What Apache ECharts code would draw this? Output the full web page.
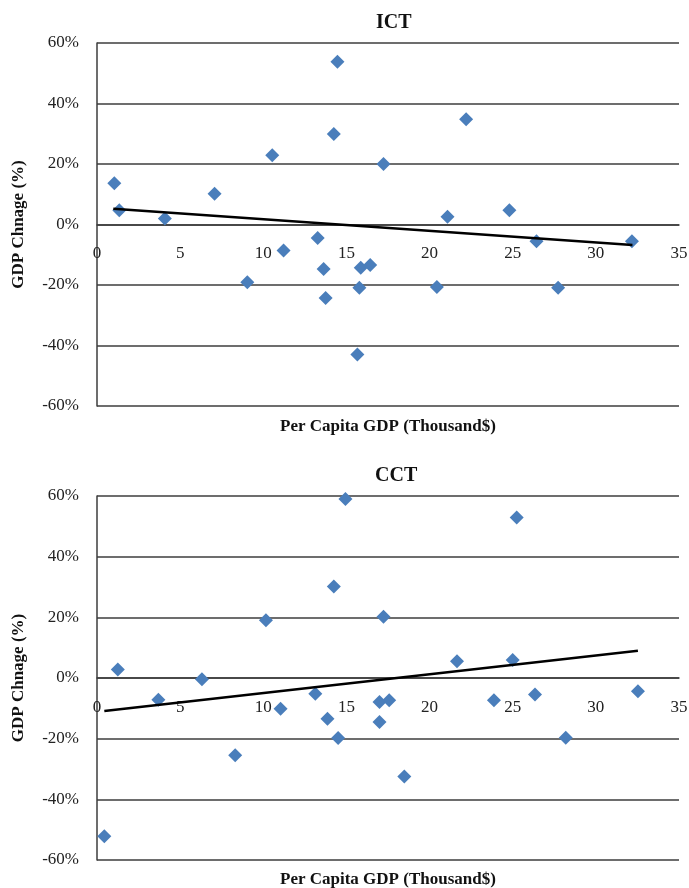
<!DOCTYPE html>
<html>
<head>
<meta charset="utf-8">
<script src="https://cdn.jsdelivr.net/npm/echarts@6/dist/echarts.min.js"></script>
<style>
html,body{margin:0;padding:0;background:#fff;}
#chart{width:689px;height:888px;}
</style>
</head>
<body>
<div id="chart"></div>
<script>
// ICT panel data: per capita GDP (thousand $) and GDP change (%)
var ictX = [1.04, 1.34, 4.08, 7.07, 10.54, 14.24, 14.46, 22.2, 17.23, 21.08, 24.8, 13.27, 11.22, 13.63, 9.04, 13.75, 15.86, 16.43, 15.78, 20.44, 27.73, 15.66, 26.43, 32.17];
var ictY = [13.6, 4.7, 2.0, 10.2, 22.9, 29.9, 53.8, 34.8, 20.0, 2.6, 4.7, -4.5, -8.6, -14.7, -19.1, -24.3, -14.3, -13.4, -20.9, -20.7, -20.9, -43.0, -5.5, -5.5];
var ictTrendX = [0.98, 32.2];
var ictTrendY = [5.2, -6.8];

// CCT panel data
var cctX = [1.25, 6.31, 10.16, 14.24, 14.94, 25.24, 17.23, 21.65, 25.0, 3.69, 13.13, 11.04, 13.86, 14.5, 8.31, 0.44, 16.99, 17.57, 16.99, 18.48, 23.87, 26.34, 32.53, 28.19];
var cctY = [2.8, -0.4, 19.0, 30.2, 59.0, 52.9, 20.2, 5.5, 5.9, -7.2, -5.2, -10.1, -13.4, -19.8, -25.5, -52.2, -7.9, -7.3, -14.5, -32.5, -7.3, -5.4, -4.4, -19.7];
var cctTrendX = [0.44, 32.53];
var cctTrendY = [-10.9, 9.0];

var panelTitles = ['ICT', 'CCT'];
var xAxisName = 'Per Capita GDP (Thousand$)';
var yAxisName = 'GDP Chnage (%)';

function pairs(xs, ys){ return xs.map(function(x,i){ return [x, ys[i]]; }); }

var FONT = '"Liberation Serif", "Times New Roman", serif';
var gridColor = '#3d3d3d';

function xAx(idx, off){
  return {
    type:'value', gridIndex:idx, min:0, max:35, interval:5,
    position:'bottom', offset:off,
    axisLine:{show:true, onZero:false, lineStyle:{color:gridColor, width:1.5}},
    axisTick:{show:false},
    splitLine:{show:false},
    axisLabel:{fontFamily:FONT, fontSize:17, color:'#222', margin:21}
  };
}
function yAx(idx){
  return {
    type:'value', gridIndex:idx, min:-60, max:60, interval:20,
    axisLine:{show:true, onZero:false, lineStyle:{color:gridColor, width:1.5}},
    axisTick:{show:false},
    splitLine:{show:true, lineStyle:{color:gridColor, width:1.5}},
    axisLabel:{fontFamily:FONT, fontSize:17, color:'#222', margin:18, padding:[4,0,0,0], formatter:'{value}%'},
    name:yAxisName, nameLocation:'middle', nameGap:70, nameRotate:90,
    nameTextStyle:{fontFamily:FONT, fontSize:17, fontWeight:'bold', color:'#111'}
  };
}
var titleStyle = {fontFamily:FONT, fontSize:20, fontWeight:'bold', color:'#111'};
var nameStyle = {fontFamily:FONT, fontSize:17, fontWeight:'bold', color:'#111'};

var chart = echarts.init(document.getElementById('chart'), null, {renderer:'canvas'});
chart.setOption({
  animation:false,
  backgroundColor:'#fff',
  title:[
    {text:panelTitles[0], left:376, top:13, padding:0, textStyle:titleStyle},
    {text:panelTitles[1], left:375, top:466, padding:0, textStyle:titleStyle},
    {text:xAxisName, left:280, top:418, padding:0, textStyle:nameStyle},
    {text:xAxisName, left:280, top:871, padding:0, textStyle:nameStyle}
  ],
  grid:[
    {left:97, right:10, top:43, height:363, containLabel:false, outerBoundsMode:'none'},
    {left:97, right:10, top:496, height:364, containLabel:false, outerBoundsMode:'none'}
  ],
  xAxis:[xAx(0, -181.5), xAx(1, -182)],
  yAxis:[yAx(0), yAx(1)],
  series:[
    {type:'scatter', xAxisIndex:0, yAxisIndex:0, data:pairs(ictX, ictY), symbol:'diamond', symbolSize:14, itemStyle:{color:'#4a7ebb', opacity:1}},
    {type:'line', xAxisIndex:0, yAxisIndex:0, data:pairs(ictTrendX, ictTrendY), symbol:'none', lineStyle:{color:'#000', width:2.5}, z:3},
    {type:'scatter', xAxisIndex:1, yAxisIndex:1, data:pairs(cctX, cctY), symbol:'diamond', symbolSize:14, itemStyle:{color:'#4a7ebb', opacity:1}},
    {type:'line', xAxisIndex:1, yAxisIndex:1, data:pairs(cctTrendX, cctTrendY), symbol:'none', lineStyle:{color:'#000', width:2.5}, z:3}
  ]
});
</script>
</body>
</html>
